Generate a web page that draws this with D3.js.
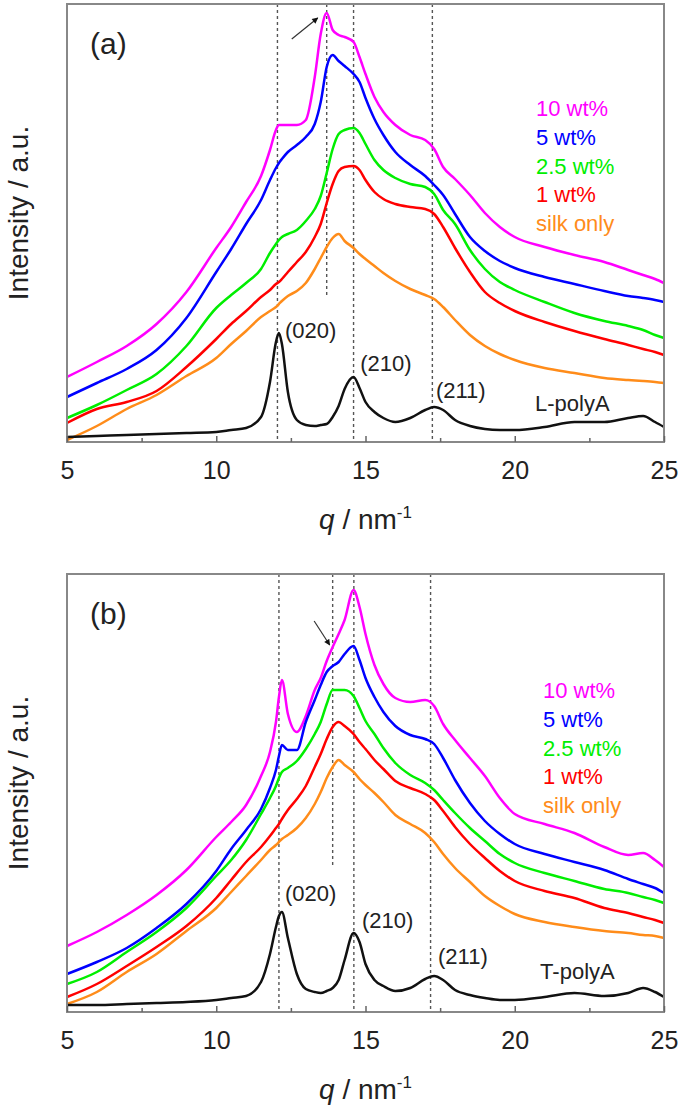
<!DOCTYPE html>
<html>
<head>
<meta charset="utf-8">
<script src="https://cdn.jsdelivr.net/npm/d3@7"></script>
<style>
    body { margin: 0; background: #fff; }
    text { font-family: "Liberation Sans", Arial, sans-serif; fill: #222; }
</style>
</head>
<body>
<div id="chart"></div>
<script>
// q grid (nm^-1) shared by every curve
var q = [5, 6, 7, 8, 9, 10, 10.5, 11, 11.5, 11.8, 12.0, 12.1, 12.2, 12.4, 12.7, 13.0, 13.3, 13.5, 13.7, 13.9,
    14.1, 14.3, 14.6, 14.8, 15.0, 15.3, 15.6, 16.0, 16.5, 17.0, 17.3, 17.6, 18.0, 18.5, 19.0, 19.5, 20, 21, 22, 23,
    23.8, 24.3, 24.7, 25];

var seriesNames = ["10 wt%", "5 wt%", "2.5 wt%", "1 wt%", "silk only"];
var seriesColors = ["#ff00ff", "#0000ff", "#00ee00", "#ff0000", "#ff8c1a"];

// panel (a) - L-polyA (intensity, a.u.)
var a10 = [65, 80, 96, 118, 150, 194, 215, 240, 266, 292, 312, 317, 317, 317, 317, 322, 365, 408, 429, 412,
    407, 405, 400, 385, 368, 345, 330, 317, 307, 302, 293, 275, 263, 247, 229, 215, 205, 195, 187, 180, 172, 167, 163, 159];
var a5 = [45, 59, 73, 92, 124, 170, 193, 218, 242, 262, 274, 279, 283, 290, 297, 305, 318, 340, 375, 387,
    381, 376, 368, 360, 344, 323, 307, 290, 277, 266, 257, 247, 228, 205, 191, 181, 174, 165, 158, 151, 146, 144, 142, 140];
var a25 = [24, 37, 52, 68, 96, 134, 147, 159, 173, 189, 198, 202, 205, 208, 212, 221, 233, 246, 269, 293,
    308, 312, 314, 309, 298, 282, 272, 264, 258, 255, 248, 232, 218, 192, 173, 160, 152, 140, 129, 121, 116, 112, 107, 104];
var a1 = [19, 33, 40, 51, 75, 103, 118, 131, 145, 152, 158, 160, 163, 170, 180, 190, 205, 218, 239, 258,
    271, 275, 276, 272, 262, 250, 243, 238, 235, 233, 228, 215, 194, 170, 150, 139, 131, 120, 111, 103, 97, 93, 90, 87];
var aSilk = [2, 16, 33, 47, 66, 84, 98, 111, 125, 131, 135, 138, 141, 146, 151, 159, 173, 184, 195, 204,
    208, 201, 194, 188, 183, 176, 169, 161, 153, 147, 143, 135, 122, 107, 96, 88, 82, 74, 69, 64, 62, 61, 60, 59];
var aPoly = [5, 6, 7, 8, 9, 10, 12, 14, 25, 60, 100, 109, 98, 50, 22, 17, 16, 17, 18, 25,
    36, 53, 65, 54, 40, 30, 24, 20, 24, 32, 35, 32, 22, 16, 13, 12, 12, 15, 20, 20, 24, 26, 20, 15];

// panel (b) - T-polyA
var b10 = [66, 80, 97, 117, 142, 175, 190, 207, 236, 260, 290, 315, 332, 298, 280, 296, 322, 334, 351, 365,
    378, 392, 422, 405, 378, 347, 328, 314, 310, 312, 306, 288, 272, 254, 236, 214, 198, 188, 179, 165, 157, 159, 152, 145];
var b5 = [38, 50, 64, 84, 108, 141, 163, 182, 203, 224, 242, 256, 267, 262, 262, 290, 312, 327, 340, 346,
    350, 358, 366, 352, 334, 315, 300, 286, 277, 273, 268, 254, 232, 209, 191, 178, 168, 158, 150, 142, 133, 128, 124, 119];
var b25 = [28, 40, 60, 80, 104, 136, 152, 172, 198, 214, 226, 234, 240, 244, 251, 263, 278, 290, 308, 322,
    322, 322, 316, 304, 291, 278, 264, 249, 237, 229, 222, 212, 199, 184, 171, 158, 149, 139, 131, 123, 119, 115, 112, 109];
var b1 = [15, 28, 46, 65, 86, 114, 132, 150, 165, 176, 184, 188, 193, 202, 213, 226, 245, 258, 273, 285,
    290, 286, 278, 270, 263, 252, 243, 231, 224, 218, 212, 201, 185, 168, 154, 141, 131, 121, 114, 104, 99, 95, 92, 89];
var bSilk = [8, 20, 40, 58, 81, 104, 120, 136, 152, 162, 167, 170, 173, 177, 184, 194, 208, 220, 234, 245,
    252, 247, 240, 233, 227, 219, 210, 197, 188, 179, 170, 158, 144, 130, 116, 106, 98, 90, 85, 81, 79, 77, 76, 74];
var bPoly = [7, 7, 8, 9, 10, 12, 14, 16, 30, 58, 85, 96, 100, 74, 38, 23, 20, 19, 21, 24,
    32, 52, 79, 70, 48, 32, 26, 21, 24, 33, 36, 32, 22, 17, 14, 12, 12, 15, 19, 16, 19, 24, 20, 15];

var xTicks = [5, 10, 15, 20, 25];
var xMinorTicks = [7.5, 12.5, 17.5, 22.5];
var peakNames = ["(020)", "(210)", "(211)"];

var width = 685, height = 1113;
var left = 67, right = 664;

var svg = d3.select("#chart").append("svg")
    .attr("width", width)
    .attr("height", height)
    .style("display", "block");

svg.append("defs").append("marker")
    .attr("id", "arrowHead")
    .attr("viewBox", "0 0 10 10")
    .attr("refX", 9).attr("refY", 5)
    .attr("markerWidth", 7).attr("markerHeight", 6)
    .attr("markerUnits", "userSpaceOnUse")
    .attr("orient", "auto")
    .append("path").attr("d", "M0,0L10,5L0,10z").attr("fill", "#111");

var x = d3.scaleLinear().domain([5, 25]).range([left, right]);

function drawPanel(p) {
    var y = d3.scaleLinear().domain([0, 438]).range([p.bottom, p.top]);
    var g = svg.append("g");

    // dashed reference lines
    g.selectAll(".ref").data(p.refLines).enter().append("line")
        .attr("x1", function (d) { return x(d); })
        .attr("x2", function (d) { return x(d); })
        .attr("y1", p.top).attr("y2", p.bottom)
        .attr("stroke", "#555").attr("stroke-width", 1.4)
        .attr("stroke-dasharray", "3,3");
    g.append("line")
        .attr("x1", x(p.shortLine[0])).attr("x2", x(p.shortLine[0]))
        .attr("y1", p.top).attr("y2", y(p.shortLine[1]))
        .attr("stroke", "#555").attr("stroke-width", 1.4)
        .attr("stroke-dasharray", "3,3");

    var line = d3.line()
        .x(function (d, i) { return x(q[i]); })
        .y(function (d) { return y(d); })
        .curve(d3.curveMonotoneX);

    var all = p.series.concat([p.poly]);
    var cols = seriesColors.concat(["#111"]);
    g.selectAll(".curve").data(all).enter().append("path")
        .attr("d", line)
        .attr("fill", "none")
        .attr("stroke", function (d, i) { return cols[i]; })
        .attr("stroke-width", 2.5)
        .attr("stroke-linejoin", "round");

    // frame
    g.append("rect")
        .attr("x", left).attr("y", p.top)
        .attr("width", right - left).attr("height", p.bottom - p.top)
        .attr("fill", "none").attr("stroke", "#888").attr("stroke-width", 2);

    var ax = g.append("g").attr("transform", "translate(0," + p.bottom + ")")
        .call(d3.axisBottom(x).tickValues(xTicks).tickSize(-6).tickPadding(19).tickFormat(d3.format("d")));
    ax.select(".domain").remove();
    ax.selectAll("line").attr("stroke", "#666").attr("stroke-width", 1.5);
    ax.selectAll("text").attr("font-size", 25).attr("fill", "#222")
        .attr("font-family", "'Liberation Sans', Arial, sans-serif");
    var mx = g.append("g").attr("transform", "translate(0," + p.bottom + ")")
        .call(d3.axisBottom(x).tickValues(xMinorTicks).tickSize(-4).tickFormat(""));
    mx.select(".domain").remove();
    mx.selectAll("line").attr("stroke", "#666").attr("stroke-width", 1.5);

    // arrow
    g.append("line")
        .attr("x1", x(p.arrow[0])).attr("y1", y(p.arrow[1]))
        .attr("x2", x(p.arrow[2])).attr("y2", y(p.arrow[3]))
        .attr("stroke", "#333").attr("stroke-width", 1.2)
        .attr("marker-end", "url(#arrowHead)");

    // panel letter
    g.append("text").attr("x", 90).attr("y", p.top + 50)
        .attr("font-size", 30).text(p.letter);

    // legend
    g.selectAll(".leg").data(seriesNames).enter().append("text")
        .attr("x", p.legendX)
        .attr("y", function (d, i) { return p.legendY + i * 28.8; })
        .attr("font-size", 22)
        .style("fill", function (d, i) { return seriesColors[i]; })
        .text(function (d) { return d; });

    // peak labels
    g.selectAll(".peak").data(p.peakPos).enter().append("text")
        .attr("x", function (d) { return x(d[0]); })
        .attr("y", function (d) { return y(d[1]); })
        .attr("font-size", 22)
        .text(function (d, i) { return peakNames[i]; });
    g.append("text").attr("x", x(p.polyPos[0])).attr("y", y(p.polyPos[1]))
        .attr("font-size", 22).text(p.polyName);

    // axis titles
    var xt = g.append("text").attr("x", (left + right) / 2).attr("y", p.bottom + 87)
        .attr("text-anchor", "middle").attr("font-size", 28);
    xt.append("tspan").attr("font-style", "italic").text("q");
    xt.append("tspan").text(" / nm");
    xt.append("tspan").attr("font-size", 17).attr("dy", -11).text("-1");

    g.append("text")
        .attr("transform", "translate(28," + ((p.top + p.bottom) / 2 - 10) + ") rotate(-90)")
        .attr("text-anchor", "middle").attr("font-size", 28)
        .text("Intensity / a.u.");
}

drawPanel({
    top: 4, bottom: 442, letter: "(a)",
    series: [a10, a5, a25, a1, aSilk], poly: aPoly, polyName: "L-polyA",
    refLines: [12.05, 14.6, 17.24], shortLine: [13.7, 145],
    arrow: [12.53, 403, 13.4, 424],
    legendX: 536, legendY: 116,
    peakPos: [[12.3, 104], [14.82, 71], [17.36, 44]], polyPos: [20.68, 31]
});

drawPanel({
    top: 574, bottom: 1012, letter: "(b)",
    series: [b10, b5, b25, b1, bSilk], poly: bPoly, polyName: "T-polyA",
    refLines: [12.1, 14.61, 17.18], shortLine: [13.9, 147],
    arrow: [13.28, 391, 13.8, 367],
    legendX: 543, legendY: 698,
    peakPos: [[12.3, 111], [14.88, 84], [17.43, 48]], polyPos: [20.85, 33]
});
</script>
</body>
</html>
